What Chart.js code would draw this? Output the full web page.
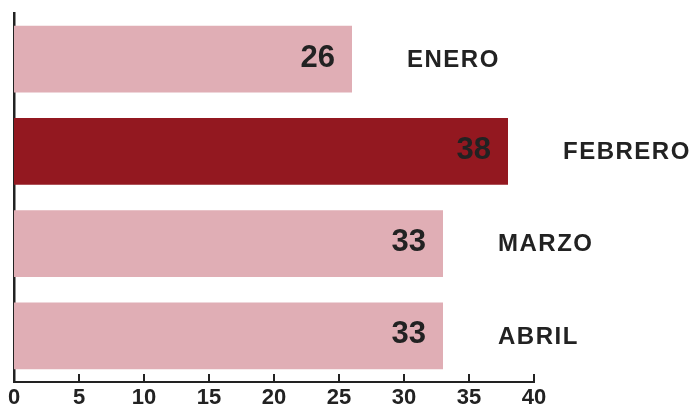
<!DOCTYPE html>
<html>
<head>
<meta charset="utf-8">
<script src="https://cdn.jsdelivr.net/npm/chart.js@4"></script>
<style>
  body { margin: 0; background: #fff; }
  #wrap { width: 691px; height: 407px; position: relative; }
</style>
</head>
<body>
<div id="wrap"><canvas id="bar"></canvas></div>
<script>
var months = ['ENERO', 'FEBRERO', 'MARZO', 'ABRIL'];
var values = [26, 38, 33, 33];
var highlight = 'FEBRERO';

var FONT = '"Liberation Sans", Arial, Helvetica, sans-serif';
var INK = '#222222';

// value inside the bar end + month name to the right of the bar
var barLabels = {
    id: 'barLabels',
    afterDatasetsDraw: function(chart) {
        var ctx = chart.ctx;
        var meta = chart.getDatasetMeta(0);
        ctx.save();
        ctx.fillStyle = INK;
        ctx.textBaseline = 'middle';
        meta.data.forEach(function(bar, i) {
            ctx.font = 'bold 31px ' + FONT;
            ctx.textAlign = 'right';
            ctx.letterSpacing = '0px';
            ctx.fillText(String(values[i]), bar.x - 17, bar.y - 1);
            ctx.font = 'bold 24px ' + FONT;
            ctx.textAlign = 'left';
            ctx.letterSpacing = '1.5px';
            ctx.fillText(months[i], bar.x + 55, bar.y + 1);
        });
        ctx.restore();
    }
};

// small tick marks pointing up from the x axis
var innerTicks = {
    id: 'innerTicks',
    afterDraw: function(chart) {
        var ctx = chart.ctx;
        var xs = chart.scales.x;
        var bottom = chart.chartArea.bottom;
        ctx.save();
        ctx.strokeStyle = INK;
        ctx.lineWidth = 2;
        xs.ticks.forEach(function(t) {
            var px = Math.round(xs.getPixelForValue(t.value));
            ctx.beginPath();
            ctx.moveTo(px, bottom - 8);
            ctx.lineTo(px, bottom + 1);
            ctx.stroke();
        });
        ctx.restore();
    }
};

var ctx1 = document.getElementById('bar').getContext('2d');
var chart1 = new Chart(ctx1, {
    type: 'bar',
    data: {
        labels: months,
        datasets: [{
            data: values,
            backgroundColor: months.map(function(m) { return m === highlight ? '#931820' : '#E0AEB5'; }),
            borderWidth: 0,
            categoryPercentage: 1,
            barPercentage: 0.726
        }]
    },
    options: {
        indexAxis: 'y',
        responsive: true,
        maintainAspectRatio: false,
        animation: false,
        layout: { padding: { left: 14, right: 157, top: 13, bottom: 0 } },
        plugins: { legend: { display: false }, tooltip: { enabled: false } },
        scales: {
            x: {
                min: 0,
                max: 40,
                grid: { display: false, drawTicks: false },
                border: { display: true, color: INK, width: 2 },
                ticks: {
                    stepSize: 5,
                    padding: 3,
                    color: INK,
                    font: { family: FONT, size: 22, weight: 'bold' }
                },
                afterFit: function(scale) { scale.height = 25; }
            },
            y: {
                grid: { display: false, drawTicks: false },
                border: { display: true, color: INK, width: 2.5 },
                ticks: { display: false },
                afterFit: function(scale) { scale.width = 0; }
            }
        }
    },
    plugins: [barLabels, innerTicks]
});
</script>
</body>
</html>
